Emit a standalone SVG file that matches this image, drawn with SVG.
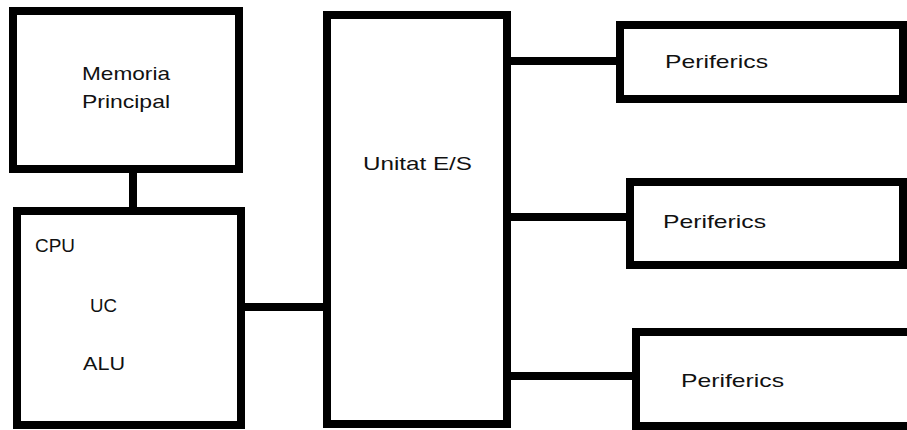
<svg xmlns="http://www.w3.org/2000/svg" width="907" height="430" viewBox="0 0 907 430">
<style>
.box{fill:#fff;stroke:#000;stroke-width:8}
.wire{stroke:#000;stroke-width:8;fill:none}
.lbl{font-family:"Liberation Sans",Arial,sans-serif;font-size:19px;fill:#111}
</style>
<rect width="907" height="430" fill="#fff"/>
<g id="connectors">
<line class="wire" x1="133" y1="169" x2="133" y2="211"/>
<line class="wire" x1="237" y1="307" x2="327" y2="307"/>
<line class="wire" x1="507" y1="61" x2="620" y2="61"/>
<line class="wire" x1="503" y1="217" x2="630" y2="217"/>
<line class="wire" x1="507" y1="376" x2="636" y2="376"/>
</g>
<g id="memoria">
<rect class="box" x="13" y="11" width="226" height="158"/>
<text class="lbl" x="82" y="80" textLength="88" lengthAdjust="spacingAndGlyphs">Memoria</text>
<text class="lbl" x="82" y="108" textLength="88" lengthAdjust="spacingAndGlyphs">Principal</text>
</g>
<g id="cpu">
<rect class="box" x="17" y="211" width="224" height="214"/>
<text class="lbl" x="35" y="252" textLength="40" lengthAdjust="spacingAndGlyphs">CPU</text>
<text class="lbl" x="90" y="312" textLength="27" lengthAdjust="spacingAndGlyphs">UC</text>
<text class="lbl" x="83" y="370" textLength="42" lengthAdjust="spacingAndGlyphs">ALU</text>
</g>
<g id="unitat">
<rect class="box" x="327" y="15" width="180" height="409"/>
<text class="lbl" x="363" y="170" textLength="109" lengthAdjust="spacingAndGlyphs">Unitat E/S</text>
</g>
<g id="periferics1">
<rect class="box" x="620" y="25" width="283" height="74"/>
<text class="lbl" x="665" y="68" textLength="103" lengthAdjust="spacingAndGlyphs">Periferics</text>
</g>
<g id="periferics2">
<rect class="box" x="630" y="182" width="273" height="83"/>
<text class="lbl" x="663" y="228" textLength="103" lengthAdjust="spacingAndGlyphs">Periferics</text>
</g>
<g id="periferics3">
<rect class="box" x="636" y="332" width="280" height="94"/>
<text class="lbl" x="681" y="387" textLength="103" lengthAdjust="spacingAndGlyphs">Periferics</text>
</g>
</svg>
